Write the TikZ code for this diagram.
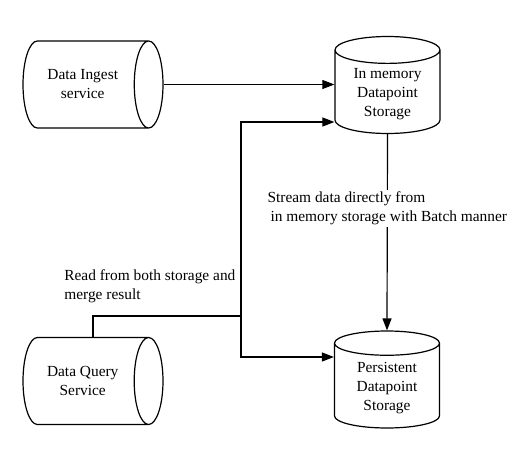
\documentclass[tikz,border=0pt]{standalone}
\usepackage{fontspec}
\setmainfont{Liberation Serif}
\usetikzlibrary{shapes.geometric,arrows.meta,positioning}

\begin{document}
\begin{tikzpicture}[x=1pt, y=-1pt, >={Triangle[length=12pt,width=9pt]}, line width=1.2pt,
  font=\fontsize{15.4}{19}\selectfont,
  hcyl/.style={cylinder, draw, align=center, anchor=shape center, minimum width=87pt, minimum height=140pt, aspect=0.8},
  vcyl/.style={cylinder, shape border rotate=90, draw, align=center, anchor=shape center, minimum width=105pt, minimum height=97pt, aspect=0.36}]

  \useasboundingbox (0,0) rectangle (531,466);

  % services
  \node [hcyl] (ingest) at (93,84.5) {Data Ingest\\service};
  \node [hcyl] (query) at (93,381) {Data Query\\Service};

  % storage
  \node [vcyl] (memory) at (387.5,85) {In memory\\Datapoint\\Storage};
  \node [vcyl] (persist) at (387,379.5) {Persistent\\Datapoint\\Storage};

  % connections
  \coordinate (merge) at (241,316);
  \draw [->, line width=0.8pt] (ingest.top) -- (ingest.top -| memory.west);
  \draw (query.north -| query.shape center) |- (merge);
  \draw [->] (merge) |- (memory.west |- 0,122);
  \draw [->] (merge) |- (persist.west |- 0,357);
  \draw [->] (memory.bottom) -- node [pos=0.38, fill=white, inner sep=2pt, align=left] {Stream data directly from\\\hspace{3pt}in memory storage with Batch manner} (persist.top);

  % labels
  \node [above left=11pt and 3pt of merge, inner sep=2pt, align=left] (readlabel) {Read from both storage and\\merge result};
\end{tikzpicture}
\end{document}
